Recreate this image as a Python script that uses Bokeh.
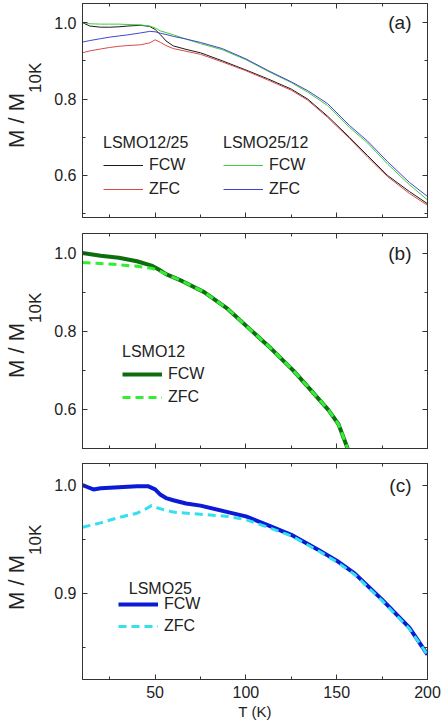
from bokeh.plotting import figure
from bokeh.layouts import column, row
from bokeh.models import (Range1d, FixedTicker, LinearAxis, Legend, LegendItem,
                          Label, Div, NumeralTickFormatter, CustomLabelingPolicy)
from bokeh.embed import file_html
from bokeh.resources import INLINE

# ---------------- data ----------------
# panel (a)
T_a = [10, 14, 20, 25, 30, 35, 42, 47, 50, 53, 56, 60, 67, 75, 87, 100, 112,
       125, 134, 145, 157, 167, 178, 190, 200]
a_1225_fcw = [1.0, 0.991, 0.988, 0.988, 0.989, 0.991, 0.993, 0.990, 0.982, 0.968,
              0.952, 0.939, 0.930, 0.921, 0.900, 0.876, 0.853, 0.826, 0.800,
              0.755, 0.700, 0.652, 0.600, 0.558, 0.526]
a_1225_zfc = [0.921, 0.926, 0.931, 0.935, 0.938, 0.940, 0.942, 0.947, 0.955, 0.948,
              0.940, 0.932, 0.925, 0.917, 0.897, 0.874, 0.850, 0.823, 0.797,
              0.752, 0.697, 0.648, 0.597, 0.553, 0.522]
a_2512_fcw = [1.0, 0.997, 0.996, 0.996, 0.996, 0.995, 0.994, 0.991, 0.986, 0.978,
              0.974, 0.968, 0.957, 0.945, 0.929, 0.903, 0.873, 0.843, 0.818,
              0.783, 0.726, 0.685, 0.630, 0.576, 0.536]
a_2512_zfc = [0.949, 0.953, 0.958, 0.962, 0.965, 0.968, 0.973, 0.977, 0.976, 0.972,
              0.969, 0.964, 0.957, 0.948, 0.932, 0.905, 0.875, 0.845, 0.822,
              0.788, 0.731, 0.690, 0.636, 0.582, 0.545]

# panel (b) LSMO12
T_b = [10, 20, 30, 40, 48, 52, 56, 65, 77, 90, 102, 114, 126, 136, 145.5, 151, 156]
b_fcw = [1.0, 0.993, 0.988, 0.979, 0.968, 0.958, 0.946, 0.928, 0.900, 0.857,
         0.806, 0.755, 0.700, 0.648, 0.598, 0.562, 0.500]
b_zfc = [0.976, 0.973, 0.970, 0.966, 0.961, 0.955, 0.946, 0.928, 0.900, 0.857,
         0.806, 0.755, 0.700, 0.648, 0.598, 0.562, 0.500]

# panel (c) LSMO25
T_c_fcw = [10, 13, 16, 20, 30, 40, 46, 50, 53, 56, 60, 67, 75, 90, 100, 112, 125,
           140, 150, 160, 175, 190, 200]
c_fcw = [1.0, 0.998, 0.996, 0.997, 0.998, 0.999, 0.999, 0.996, 0.991, 0.988, 0.986,
         0.983, 0.981, 0.975, 0.971, 0.963, 0.954, 0.940, 0.930, 0.918, 0.894,
         0.868, 0.843]
T_c_zfc = [10, 20, 30, 40, 45, 48, 51, 55, 60, 75, 90, 100, 112, 125, 140, 150,
           160, 175, 190, 200]
c_zfc = [0.961, 0.965, 0.970, 0.974, 0.978, 0.981, 0.979, 0.977, 0.975, 0.973,
         0.971, 0.968, 0.961, 0.953, 0.939, 0.929, 0.917, 0.893, 0.867, 0.843]

x_major = [50, 100, 150, 200]
x_minor = [25, 75, 125, 175]

FONT = "Liberation Sans"
LBL_W = 40          # width of the column holding the rotated y labels
W = 441 - LBL_W


def hide_labels(ax):
    ax.major_label_text_font_size = "0px"
    ax.major_label_standoff = 0
    ax.major_label_policy = CustomLabelingPolicy(code="return []")


def make_panel(height, top, bottom, yr, ymaj, ymin, tag, show_x):
    p = figure(width=W, height=height, x_range=Range1d(10, 200),
               y_range=Range1d(*yr), output_backend="svg", toolbar_location=None,
               min_border_left=82 - LBL_W, min_border_right=14,
               min_border_top=top, min_border_bottom=bottom, margin=0)
    p.grid.visible = False
    p.outline_line_color = "#333333"
    p.outline_line_width = 1
    p.background_fill_color = None
    p.border_fill_color = None
    xt = FixedTicker(ticks=x_major, minor_ticks=x_minor)
    yt = FixedTicker(ticks=ymaj, minor_ticks=ymin)
    p.xaxis.ticker = xt
    p.yaxis.ticker = yt
    p.yaxis.formatter = NumeralTickFormatter(format="0.0")
    p.add_layout(LinearAxis(ticker=xt), "above")
    p.add_layout(LinearAxis(ticker=yt), "right")
    for ax in p.axis:
        ax.axis_line_color = "#333333"
        ax.major_tick_line_color = "#333333"
        ax.minor_tick_line_color = "#333333"
        ax.major_tick_in = 5
        ax.major_tick_out = 0
        ax.minor_tick_in = 3
        ax.minor_tick_out = 0
        ax.major_label_text_font = FONT
        ax.major_label_text_font_size = "16px"
        ax.major_label_text_color = "#222222"
    for ax in p.above + p.right:
        hide_labels(ax)
    p.yaxis[0].major_label_standoff = 6
    if not show_x:
        hide_labels(p.below[0])
    else:
        p.below[0].major_label_standoff = 6
        p.below[0].axis_label = "T (K)"
        p.below[0].axis_label_text_font = FONT
        p.below[0].axis_label_text_font_size = "15px"
        p.below[0].axis_label_text_font_style = "normal"
        p.below[0].axis_label_standoff = 2
        p.below[0].axis_label_text_color = "#222222"
    # panel tag
    p.add_layout(Label(x=200, y=ymaj[-1], x_offset=-16, text=tag,
                       text_align="right", text_baseline="middle",
                       text_font=FONT, text_font_size="19px",
                       text_color="#222222"))
    return p


def make_legend(title, items, loc, spacing, standoff, gh):
    kw = dict(items=items, location=loc, orientation="vertical",
              border_line_color=None, background_fill_alpha=0,
              padding=0, margin=0, spacing=spacing, title_standoff=standoff,
              glyph_width=40, glyph_height=gh, label_height=gh,
              label_standoff=6,
              label_text_font=FONT, label_text_font_size="16px",
              label_text_color="#222222",
              title_text_font=FONT, title_text_font_size="16px",
              title_text_font_style="normal", title_text_color="#222222")
    if title:
        kw["title"] = title
    return Legend(**kw)


# ---------------- panel (a) ----------------
pa = make_panel(225, 3, 8, (0.49, 1.05), [0.6, 0.8, 1.0], [0.5, 0.7, 0.9], "(a)", False)
r_k = pa.line(T_a, a_1225_fcw, line_color="#1a1a1a", line_width=1)
r_r = pa.line(T_a, a_1225_zfc, line_color="#d94a4a", line_width=1)
r_g = pa.line(T_a, a_2512_fcw, line_color="#3fcc3f", line_width=1)
r_bl = pa.line(T_a, a_2512_zfc, line_color="#4545cc", line_width=1)
pa.add_layout(make_legend("LSMO12/25", [LegendItem(label="FCW", renderers=[r_k]),
                                        LegendItem(label="ZFC", renderers=[r_r])],
                          (21, 18), 4, 3, 20))
pa.add_layout(make_legend("LSMO25/12", [LegendItem(label="FCW", renderers=[r_g]),
                                        LegendItem(label="ZFC", renderers=[r_bl])],
                          (141, 18), 4, 3, 20))

# ---------------- panel (b) ----------------
pb = make_panel(230, 8, 7, (0.5, 1.05), [0.6, 0.8, 1.0], [0.5, 0.7, 0.9], "(b)", False)
rb1 = pb.line(T_b, b_fcw, line_color="#0d6e0d", line_width=4)
rb2 = pb.line(T_b, b_zfc, line_color="#33ee33", line_width=3, line_dash="8 5")
pb.add_layout(make_legend("LSMO12", [LegendItem(label="FCW", renderers=[rb1]),
                                     LegendItem(label="ZFC", renderers=[rb2])],
                          (40, 41), 3, 3, 20))

# ---------------- panel (c) ----------------
pc = make_panel(273, 8, 49, (0.82, 1.02), [0.9, 1.0], [0.85, 0.95], "(c)", True)
rc1 = pc.line(T_c_fcw, c_fcw, line_color="#0a1ad6", line_width=4)
rc2 = pc.line(T_c_zfc, c_zfc, line_color="#33e0f0", line_width=3, line_dash="8 5")
pc.add_layout(make_legend(None, [LegendItem(label="FCW", renderers=[rc1]),
                                 LegendItem(label="ZFC", renderers=[rc2])],
                          (36, 44), 4, 0, 18))
pc.add_layout(Label(x=35.5, y=0.9047, text="LSMO25", text_align="left",
                    text_baseline="middle", text_font=FONT, text_font_size="16px",
                    text_color="#222222"))

# ---------------- rotated y-axis labels (M / M_10K) ----------------
label_tops = [148, 378, 610]   # page y where each label starts (reads upward)


def ylab(top):
    return ('<div style="position:absolute;left:6px;top:%dpx;'
            'transform:rotate(-90deg);transform-origin:0 0;'
            "font-family:'Liberation Sans',Arial,sans-serif;font-size:22px;"
            'line-height:22px;white-space:nowrap;color:#222222;">'
            'M / M<span style="font-size:17px;position:relative;top:17px;">10K</span>'
            '</div>' % top)


lab_html = ('<div style="position:relative;width:%dpx;height:728px;">' % LBL_W
            + "".join(ylab(t) for t in label_tops) + '</div>')
lab_div = Div(text=lab_html, width=LBL_W, height=728, margin=0)

layout = row(lab_div, column(pa, pb, pc, spacing=0), spacing=0)
open("out.html", "w").write(file_html(layout, INLINE))
